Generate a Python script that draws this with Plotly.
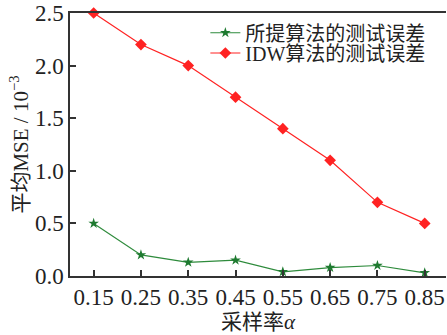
import plotly.graph_objects as go

sampling_rate = [0.15, 0.25, 0.35, 0.45, 0.55, 0.65, 0.75, 0.85]
proposed_mse = [0.50, 0.20, 0.13, 0.15, 0.04, 0.08, 0.10, 0.03]
idw_mse = [2.50, 2.20, 2.00, 1.70, 1.40, 1.10, 0.70, 0.50]
y_ticks = [0.0, 0.5, 1.0, 1.5, 2.0, 2.5]

name_proposed = "所提算法的测试误差"
name_idw = "IDW算法的测试误差"

FONT = "Liberation Serif, Times New Roman, Noto Sans CJK SC, serif"
GREEN = "#1e7a30"
RED = "#ff2222"

fig = go.Figure()
fig.add_trace(go.Scatter(
    x=sampling_rate, y=proposed_mse, mode="lines+markers", name=name_proposed,
    line=dict(color="#2e8b3c", width=1.2),
    marker=dict(symbol="star", size=8, color=GREEN),
    legend="legend", showlegend=True, cliponaxis=False,
))
fig.add_trace(go.Scatter(
    x=sampling_rate, y=idw_mse, mode="lines+markers", name=name_idw,
    line=dict(color=RED, width=1.2),
    marker=dict(symbol="diamond", size=9, color=RED),
    legend="legend2", showlegend=True, cliponaxis=False,
))

legend_common = dict(
    font=dict(family=FONT, size=20, color="#222"),
    bgcolor="rgba(0,0,0,0)", borderwidth=0,
    xanchor="left", yanchor="middle",
    itemwidth=30, tracegroupgap=0, visible=True,
)

fig.update_layout(
    width=447, height=335,
    showlegend=True,
    margin=dict(l=70, r=1, t=13, b=59),
    paper_bgcolor="white", plot_bgcolor="white",
    font=dict(family=FONT, size=22, color="#222"),
    legend=dict(x=0.36, y=0.925, **legend_common),
    legend2=dict(x=0.36, y=0.848, **legend_common),
    xaxis=dict(
        range=[0.10, 0.895], tickvals=sampling_rate,
        ticktext=[f"{v:.2f}" for v in sampling_rate],
        showline=True, linecolor="#333", linewidth=1.5, mirror=True,
        ticks="inside", ticklen=6, tickcolor="#333", tickwidth=1.5,
        showgrid=False, zeroline=False,
        title=dict(text="采样率<i>α</i>", font=dict(size=21), standoff=3),
        tickfont=dict(size=23),
    ),
    yaxis=dict(
        range=[0, 2.5], tickvals=y_ticks,
        ticktext=[f"{v:.1f}" for v in y_ticks],
        showline=True, linecolor="#333", linewidth=1.5,
        ticks="inside", ticklen=6, tickcolor="#333", tickwidth=1.5,
        showgrid=False, zeroline=False,
        title=dict(text="平均MSE / 10<sup>−3</sup>", font=dict(size=21), standoff=1),
        tickfont=dict(size=23),
    ),
)

fig.write_html("out.html")
